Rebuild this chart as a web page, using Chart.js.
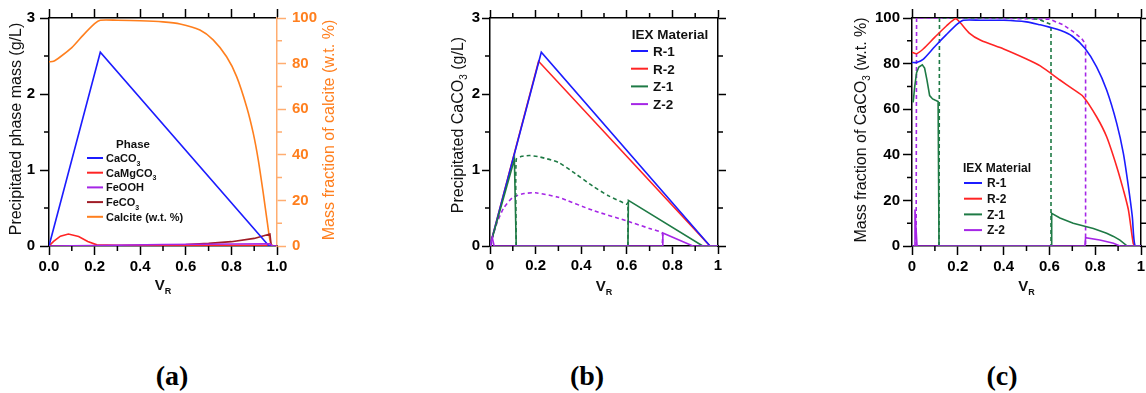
<!DOCTYPE html>
<html>
<head>
<meta charset="utf-8">
<script src="https://cdn.jsdelivr.net/npm/chart.js@4.4.1/dist/chart.umd.min.js"></script>
<style>
    html, body { margin: 0; padding: 0; background: #fff; }
    body { width: 1146px; height: 393px; position: relative; overflow: hidden; }
    canvas { position: absolute; top: 0; }
    .panel-label {
        position: absolute; top: 376px; transform: translate(-50%, -50%);
        font: bold 28px 'Liberation Serif', 'Times New Roman', serif; color: #000;
    }
</style>
</head>
<body>
<canvas id="chartA" width="345" height="300" style="left:0px"></canvas>
<canvas id="chartB" width="290" height="300" style="left:440px"></canvas>
<canvas id="chartC" width="301" height="300" style="left:845px"></canvas>
<div class="panel-label" style="left:172px">(a)</div>
<div class="panel-label" style="left:587px">(b)</div>
<div class="panel-label" style="left:1002px">(c)</div>

<script>
// ---------- Panel (a): precipitated phase mass (g/L) + calcite fraction (%) ----------
const aCaCO3X = [0, 0.225, 0.965, 0.99];
const aCaCO3Y = [0, 2.55, 0, 0];
const aCaMgX = [0, 0.02, 0.05, 0.085, 0.13, 0.17, 0.21, 0.3, 0.6, 0.97, 0.98];
const aCaMgY = [0, 0.06, 0.13, 0.157, 0.125, 0.06, 0.015, 0.01, 0.008, 0.005, 0];
const aFeOOHX = [0, 0.2, 0.5, 0.97, 0.98, 1.0];
const aFeOOHY = [0, 0.005, 0.02, 0.03, 0, 0];
const aFeCO3X = [0, 0.22, 0.4, 0.6, 0.7, 0.8, 0.9, 0.969, 0.975, 1.0];
const aFeCO3Y = [0, 0, 0.005, 0.02, 0.035, 0.057, 0.1, 0.158, 0, 0];
const aCalciteX = [0, 0.02, 0.05, 0.1, 0.15, 0.2, 0.225, 0.3, 0.4, 0.5, 0.575, 0.662, 0.72, 0.779, 0.823, 0.867, 0.896, 0.918, 0.94, 0.958, 0.972, 0.985, 1.0];
const aCalciteY = [80.8, 81, 83, 87, 92.5, 97.5, 99, 99, 98.8, 98.3, 97.4, 94.7, 90.4, 83, 74.3, 61, 49.4, 37.7, 23, 10, 1.2, 0, 0];

// ---------- Panel (b): precipitated CaCO3 (g/L) by IEX material ----------
const bR1X = [0, 0.225, 0.965, 1.0];
const bR1Y = [0, 2.55, 0, 0];
const bR2X = [0, 0.213, 0.965, 1.0];
const bR2Y = [0, 2.43, 0, 0];
const bZ1X = [0, 0.107, 0.115, 0.605, 0.607, 0.933, 1.0];
const bZ1Y = [0, 1.14, 0, 0, 0.6, 0, 0];
const bZ2X = [0, 0.01, 0.018, 0.755, 0.758, 0.89, 1.0];
const bZ2Y = [0, 0.11, 0, 0, 0.17, 0, 0];
const bZ1DashX = [0.115, 0.115, 0.14, 0.175, 0.22, 0.3, 0.375, 0.45, 0.52, 0.6, 0.605, 0.605];
const bZ1DashY = [0, 1.14, 1.18, 1.19, 1.17, 1.1, 0.95, 0.79, 0.66, 0.55, 0.57, 0];
const bZ2DashX = [0.005, 0.01, 0.03, 0.06, 0.1, 0.15, 0.2, 0.3, 0.45, 0.6, 0.7, 0.755, 0.755];
const bZ2DashY = [0, 0.1, 0.3, 0.5, 0.64, 0.69, 0.7, 0.64, 0.47, 0.33, 0.23, 0.17, 0];

// ---------- Panel (c): mass fraction of CaCO3 (w.t. %) ----------
const cR1X = [0, 0.02, 0.05, 0.1, 0.15, 0.2, 0.225, 0.3, 0.4, 0.5, 0.56, 0.6, 0.65, 0.7, 0.755, 0.806, 0.85, 0.894, 0.923, 0.945, 0.962, 0.974, 1.0];
const cR1Y = [80.5, 80.5, 82, 87.5, 92.7, 97.5, 99, 99, 99, 98.3, 97, 96, 94.5, 92, 86.7, 78.6, 68.4, 53.8, 40.6, 26, 12.9, 0, 0];
const cR2X = [0, 0.02, 0.05, 0.1, 0.15, 0.19, 0.21, 0.25, 0.3, 0.4, 0.5, 0.56, 0.646, 0.7, 0.748, 0.806, 0.85, 0.894, 0.923, 0.945, 0.966, 0.974];
const cR2Y = [85, 84.3, 86.5, 91.6, 96.5, 99.7, 98, 93.4, 90.2, 86.4, 82, 79, 72.8, 69, 65.5, 56.7, 47.9, 34.8, 24.6, 15.8, 1.2, 0];
const cZ1X = [0.005, 0.012, 0.02, 0.03, 0.045, 0.055, 0.065, 0.077, 0.09, 0.1, 0.114, 0.118, 0.607, 0.61, 0.646, 0.704, 0.792, 0.85, 0.88, 0.908, 0.94, 1.0];
const cZ1Y = [63, 70, 76, 78.5, 79.5, 78, 73, 66, 64.5, 64, 63.4, 0, 0, 14.3, 12.3, 10, 7.7, 5.6, 4.2, 2.6, 0, 0];
const cZ2X = [0, 0.01, 0.013, 0.022, 0.755, 0.758, 0.82, 0.88, 0.908, 1.0];
const cZ2Y = [0, 0, 16, 0, 0, 3.6, 2.6, 1.2, 0, 0];
const cZ1DashX = [0.118, 0.12, 0.3, 0.5, 0.55, 0.6, 0.607, 0.607];
const cZ1DashY = [0, 100, 100, 100, 99.5, 97.5, 97, 0];
const cZ2DashX = [0.018, 0.02, 0.3, 0.6, 0.66, 0.704, 0.741, 0.755, 0.758, 0.758];
const cZ2DashY = [0, 100, 100, 99.5, 97, 94, 91, 89, 88.5, 0];

// Tick labels
const xTicksA = ['0.0', '0.2', '0.4', '0.6', '0.8', '1.0'];
const xTicksBC = ['0', '0.2', '0.4', '0.6', '0.8', '1'];

const FONT = "'Liberation Sans', Arial, sans-serif";
const BLUE = '#1c1cff';
const RED = '#ff2424';
const GREEN = '#1e7a45';
const PURPLE = '#a526e6';
const DARKRED = '#a01c26';
const ORANGE = '#ff7f1e';
const ORANGE_AXIS = '#ffad70';

const pts = (xs, ys) => xs.map((x, i) => ({ x: x, y: ys[i] }));

function line(label, xs, ys, color, extra = {}) {
    return Object.assign({
        label: label,
        data: pts(xs, ys),
        borderColor: color,
        borderWidth: 1.6,
        pointRadius: 0,
        tension: 0,
        fill: false,
        inLegend: true
    }, extra);
}

// Draws text with {sub} parts as subscripts
function drawRich(ctx, str, x, y, o) {
    const segs = [];
    str.split(/(\{[^}]*\})/).forEach(p => {
        if (!p) return;
        if (p[0] === '{') segs.push({ t: p.slice(1, -1), sub: true });
        else segs.push({ t: p, sub: false });
    });
    const weight = o.weight || 'normal';
    const fMain = `${weight} ${o.size}px ${FONT}`;
    const fSub = `${weight} ${o.subSize || Math.round(o.size * 0.62)}px ${FONT}`;
    let w = 0;
    segs.forEach(s => { ctx.font = s.sub ? fSub : fMain; s.w = ctx.measureText(s.t).width; w += s.w; });
    ctx.save();
    ctx.translate(x, y);
    if (o.rotate) ctx.rotate(o.rotate);
    ctx.fillStyle = o.color || '#111';
    ctx.textAlign = 'left';
    ctx.textBaseline = 'alphabetic';
    let cx = o.align === 'left' ? 0 : -w / 2;
    const base = o.size * 0.36;
    segs.forEach(s => {
        ctx.font = s.sub ? fSub : fMain;
        ctx.fillText(s.t, cx, base + (s.sub ? (o.subDy != null ? o.subDy : o.size * 0.3) : 0));
        cx += s.w;
    });
    ctx.restore();
}

// Axis titles, positioned relative to the chart area
function titlesPlugin(items) {
    return {
        id: 'axisTitles',
        afterDraw(chart) {
            const a = chart.chartArea;
            items.forEach(t => drawRich(chart.ctx, t.text, a.left + t.dx, a.top + t.dy, t));
        }
    };
}

// Legend drawn inside the plot
function legendPlugin(o) {
    return {
        id: 'insideLegend',
        afterDraw(chart) {
            const ctx = chart.ctx;
            const a = chart.chartArea;
            drawRich(ctx, o.title, a.left + o.titleX, a.top + o.titleY, { size: o.titleSize, weight: 'bold' });
            chart.data.datasets.filter(d => d.inLegend).forEach((d, i) => {
                const y = a.top + o.rowY + i * o.rowH;
                ctx.save();
                ctx.strokeStyle = d.borderColor;
                ctx.lineWidth = 2;
                ctx.beginPath();
                ctx.moveTo(a.left + o.lineX, y);
                ctx.lineTo(a.left + o.lineX + o.lineLen, y);
                ctx.stroke();
                ctx.restore();
                drawRich(ctx, d.label, a.left + o.textX, y, { size: o.size, weight: 'bold', align: 'left', subDy: o.size * 0.33 });
            });
        }
    };
}

// Short ticks between the labelled ones
function minorTicksPlugin(list) {
    return {
        id: 'minorTicks',
        afterDraw(chart) {
            const ctx = chart.ctx;
            list.forEach(m => {
                const s = chart.scales[m.id];
                ctx.save();
                ctx.strokeStyle = m.color || '#000';
                ctx.lineWidth = 1.5;
                ctx.beginPath();
                for (let i = 1; s.min + i * m.step < s.max - 1e-9; i += 2) {
                    const p = s.getPixelForValue(s.min + i * m.step);
                    if (s.position === 'left') { ctx.moveTo(s.right, p); ctx.lineTo(s.right - m.len, p); }
                    if (s.position === 'right') { ctx.moveTo(s.left, p); ctx.lineTo(s.left + m.len, p); }
                    if (s.position === 'bottom') { ctx.moveTo(p, s.top); ctx.lineTo(p, s.top + m.len); }
                    if (s.position === 'top') { ctx.moveTo(p, s.bottom); ctx.lineTo(p, s.bottom - m.len); }
                }
                ctx.stroke();
                ctx.restore();
            });
        }
    };
}

function axis(pos, min, max, step, size, o = {}) {
    const color = o.color || '#000';
    const lineColor = o.lineColor || color;
    return {
        type: 'linear',
        position: pos,
        min: min,
        max: max,
        border: { display: true, color: lineColor, width: 1.5 },
        grid: { drawOnChartArea: false, drawTicks: true, tickLength: o.tick || 9, tickColor: lineColor, tickWidth: 1.5 },
        ticks: {
            display: !!o.labels,
            stepSize: step,
            autoSkip: false,
            maxRotation: 0,
            color: color,
            padding: o.pad != null ? o.pad : 4,
            font: { family: FONT, size: 15, weight: 'bold' },
            callback: (v, i) => (o.labels ? o.labels[i] : '')
        },
        afterFit(s) {
            if (pos === 'left' || pos === 'right') s.width = size; else s.height = size;
            s.paddingLeft = 0; s.paddingRight = 0; s.paddingTop = 0; s.paddingBottom = 0;
        }
    };
}

const baseOptions = {
    responsive: false,
    animation: false,
    devicePixelRatio: 1,
    layout: { padding: 0, autoPadding: false },
    plugins: { legend: { display: false }, tooltip: { enabled: false } }
};

// ---------- Chart (a) ----------
new Chart(document.getElementById('chartA'), {
    type: 'line',
    data: {
        datasets: [
            line('CaCO{3}', aCaCO3X, aCaCO3Y, BLUE),
            line('CaMgCO{3}', aCaMgX, aCaMgY, RED),
            line('FeOOH', aFeOOHX, aFeOOHY, PURPLE, { order: -1 }),
            line('FeCO{3}', aFeCO3X, aFeCO3Y, DARKRED),
            line('Calcite (w.t. %)', aCalciteX, aCalciteY, ORANGE, { yAxisID: 'y1', tension: 0.25 })
        ]
    },
    options: Object.assign({}, baseOptions, {
        scales: {
            x: axis('bottom', 0, 1, 0.2, 54, { labels: xTicksA, pad: 3 }),
            x2: axis('top', 0, 1, 0.2, 18),
            y: axis('left', 0, 3, 1, 49, { labels: ['0', '1', '2', '3'], pad: 5 }),
            y1: axis('right', 0, 100, 20, 68, { labels: ['0', '20', '40', '60', '80', '100'], color: ORANGE, lineColor: ORANGE_AXIS, pad: 6 })
        }
    }),
    plugins: [
        minorTicksPlugin([
            { id: 'x', step: 0.1, len: 5 }, { id: 'x2', step: 0.1, len: 5 },
            { id: 'y', step: 0.5, len: 5 }, { id: 'y1', step: 10, len: 5, color: ORANGE_AXIS }
        ]),
        titlesPlugin([
            { text: 'Precipitated phase mass (g/L)', dx: -34, dy: 111, size: 16, rotate: -Math.PI / 2 },
            { text: 'Mass fraction of calcite (w.t. %)', dx: 279, dy: 112, size: 16, rotate: -Math.PI / 2, color: ORANGE },
            { text: 'V{R}', dx: 114, dy: 267, size: 15, weight: 'bold', subSize: 9, subDy: 4 }
        ]),
        legendPlugin({ title: 'Phase', titleX: 84, titleY: 126, titleSize: 11.5, size: 11, lineX: 38, lineLen: 16, textX: 57, rowY: 140, rowH: 14.7 })
    ]
});

// ---------- Chart (b) ----------
new Chart(document.getElementById('chartB'), {
    type: 'line',
    data: {
        datasets: [
            line('R-1', bR1X, bR1Y, BLUE),
            line('R-2', bR2X, bR2Y, RED),
            line('Z-1', bZ1X, bZ1Y, GREEN, { order: -1 }),
            line('Z-2', bZ2X, bZ2Y, PURPLE, { order: -2 }),
            line('Z-1 dashed', bZ1DashX, bZ1DashY, GREEN, { borderDash: [4, 3], inLegend: false, tension: 0.2 }),
            line('Z-2 dashed', bZ2DashX, bZ2DashY, PURPLE, { borderDash: [4, 3], inLegend: false, tension: 0.2 })
        ]
    },
    options: Object.assign({}, baseOptions, {
        scales: {
            x: axis('bottom', 0, 1, 0.2, 54, { labels: xTicksBC, pad: 3, tick: 8 }),
            x2: axis('top', 0, 1, 0.2, 18, { tick: 8 }),
            y: axis('left', 0, 3, 1, 50, { labels: ['0', '1', '2', '3'], pad: 2, tick: 8 }),
            y2: axis('right', 0, 3, 1, 12, { tick: 8 })
        }
    }),
    plugins: [
        minorTicksPlugin([
            { id: 'x', step: 0.1, len: 5 }, { id: 'x2', step: 0.1, len: 5 },
            { id: 'y', step: 0.5, len: 5 }, { id: 'y2', step: 0.5, len: 5 }
        ]),
        titlesPlugin([
            { text: 'Precipitated CaCO{3} (g/L)', dx: -33, dy: 107, size: 16, rotate: -Math.PI / 2, subSize: 10, subDy: 4 },
            { text: 'V{R}', dx: 114, dy: 268, size: 15, weight: 'bold', subSize: 9, subDy: 4 }
        ]),
        legendPlugin({ title: 'IEX Material', titleX: 180, titleY: 16, titleSize: 13.5, size: 13.5, lineX: 141, lineLen: 17, textX: 163, rowY: 33, rowH: 17.7 })
    ]
});

// ---------- Chart (c) ----------
new Chart(document.getElementById('chartC'), {
    type: 'line',
    data: {
        datasets: [
            line('R-1', cR1X, cR1Y, BLUE, { tension: 0.25 }),
            line('R-2', cR2X, cR2Y, RED, { tension: 0.25 }),
            line('Z-1', cZ1X, cZ1Y, GREEN, { order: -1 }),
            line('Z-2', cZ2X, cZ2Y, PURPLE, { order: -2 }),
            line('Z-1 dashed', cZ1DashX, cZ1DashY, GREEN, { borderDash: [4, 3], inLegend: false }),
            line('Z-2 dashed', cZ2DashX, cZ2DashY, PURPLE, { borderDash: [4, 3], inLegend: false })
        ]
    },
    options: Object.assign({}, baseOptions, {
        scales: {
            x: axis('bottom', 0, 1, 0.2, 54, { labels: xTicksBC, pad: 3 }),
            x2: axis('top', 0, 1, 0.2, 18),
            y: axis('left', 0, 100, 20, 67, { labels: ['0', '20', '40', '60', '80', '100'], pad: 3 }),
            y2: axis('right', 0, 100, 20, 5)
        }
    }),
    plugins: [
        minorTicksPlugin([
            { id: 'x', step: 0.1, len: 5 }, { id: 'x2', step: 0.1, len: 5 },
            { id: 'y', step: 10, len: 5 }, { id: 'y2', step: 10, len: 5 }
        ]),
        titlesPlugin([
            { text: 'Mass fraction of CaCO{3} (w.t. %)', dx: -52, dy: 112, size: 16, rotate: -Math.PI / 2, subSize: 10, subDy: 4 },
            { text: 'V{R}', dx: 114.5, dy: 268, size: 15, weight: 'bold', subSize: 9, subDy: 4 }
        ]),
        legendPlugin({ title: 'IEX Material', titleX: 85, titleY: 150, titleSize: 12, size: 12, lineX: 52, lineLen: 18, textX: 75, rowY: 165, rowH: 15.7 })
    ]
});
</script>
</body>
</html>
